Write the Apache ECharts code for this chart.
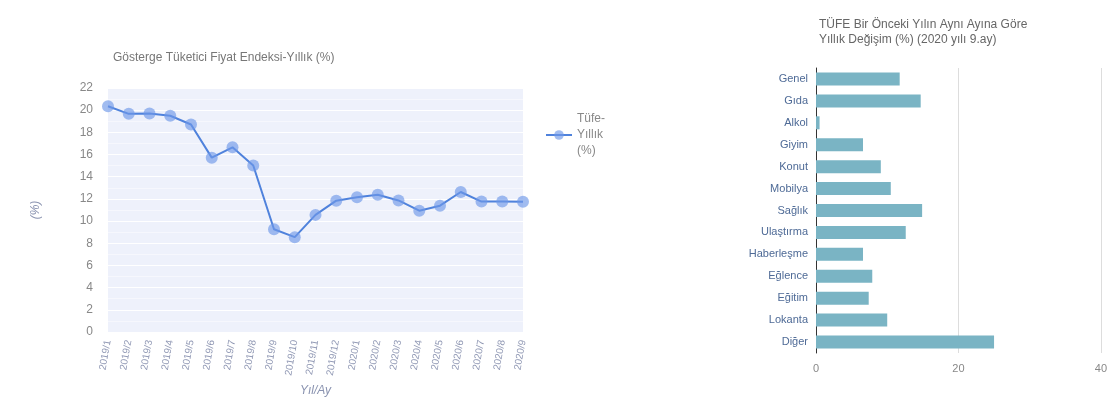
<!DOCTYPE html>
<html>
<head>
<meta charset="utf-8">
<script src="https://cdn.jsdelivr.net/npm/echarts@6/dist/echarts.min.js"></script>
<style>
  html, body { margin: 0; padding: 0; background: #fff; }
  #main { width: 1110px; height: 410px; }
</style>
</head>
<body>
<div id="main"></div>
<script>
// sol grafik: yillik tufe
var months = ['2019/1', '2019/2', '2019/3', '2019/4', '2019/5', '2019/6', '2019/7', '2019/8', '2019/9', '2019/10', '2019/11', '2019/12',
  '2020/1', '2020/2', '2020/3', '2020/4', '2020/5', '2020/6', '2020/7', '2020/8', '2020/9'];
var tufeYillik = [20.35, 19.67, 19.71, 19.50, 18.71, 15.72, 16.65, 15.01, 9.26, 8.55, 10.56, 11.84,
  12.15, 12.37, 11.86, 10.94, 11.39, 12.62, 11.76, 11.77, 11.75];

// sag grafik: harcama gruplari (2020 9.ay)
var groups = ['Genel', 'Gıda', 'Alkol', 'Giyim', 'Konut', 'Mobilya', 'Sağlık', 'Ulaştırma', 'Haberleşme', 'Eğlence', 'Eğitim', 'Lokanta', 'Diğer'];
var groupChange = [11.75, 14.7, 0.5, 6.6, 9.1, 10.5, 14.9, 12.6, 6.6, 7.9, 7.4, 10.0, 25.0];

var chart = echarts.init(document.getElementById('main'));

var option = {
  animation: false,
  textStyle: { fontFamily: 'Arial, "Liberation Sans", sans-serif' },
  title: [
    {
      text: 'Gösterge Tüketici Fiyat Endeksi-Yıllık (%)',
      left: 108, top: 47,
      textStyle: { fontSize: 12, fontWeight: 'normal', color: '#777' }
    },
    {
      text: 'TÜFE Bir Önceki Yılın Aynı Ayına Göre\nYıllık Değişim (%) (2020 yılı 9.ay)',
      left: 814, top: 12,
      textStyle: { fontSize: 12, fontWeight: 'normal', color: '#666', lineHeight: 15 }
    }
  ],
  legend: {
    data: ['Tüfe-Yıllık (%)'],
    left: 540, top: 90,
    orient: 'vertical',
    itemWidth: 26, itemHeight: 12,
    formatter: function () { return 'Tüfe-\nYıllık\n(%)'; },
    textStyle: { color: '#888', fontSize: 12, lineHeight: 16, padding: [32, 0, 0, 0] }
  },
  grid: [
    { left: 108, top: 88, width: 415, bottom: 78, show: true, backgroundColor: '#eef1fb', borderWidth: 0 },
    { left: 816, top: 68, right: 9, bottom: 57 }
  ],
  xAxis: [
    {
      type: 'category', gridIndex: 0, data: months, boundaryGap: false,
      name: 'Yıl/Ay', nameLocation: 'middle', nameGap: 52,
      nameTextStyle: { color: '#8a93b0', fontStyle: 'italic', fontSize: 12 },
      axisLine: { show: false }, axisTick: { show: false },
      axisLabel: { rotate: 80, color: '#9098b4', fontSize: 10, margin: 8, interval: 0 },
      splitLine: { show: false }
    },
    {
      type: 'value', gridIndex: 1, min: 0, max: 40, interval: 20,
      axisLine: { show: false }, axisTick: { show: false },
      axisLabel: { color: '#888', fontSize: 11, margin: 10 },
      splitLine: { lineStyle: { color: '#ddd' } }
    }
  ],
  yAxis: [
    {
      type: 'value', gridIndex: 0, min: 0, max: 22, interval: 2,
      name: '(%)', nameLocation: 'middle', nameGap: 66, nameRotate: 90,
      nameTextStyle: { color: '#8a93b0', fontStyle: 'italic', fontSize: 12 },
      axisLine: { show: false }, axisTick: { show: false },
      axisLabel: { color: '#888', fontSize: 12, margin: 15 },
      splitLine: { lineStyle: { color: '#fff' } },
      minorTick: { show: false, splitNumber: 2 },
      minorSplitLine: { show: true, lineStyle: { color: '#f6f7fd' } }
    },
    {
      type: 'category', gridIndex: 1, data: groups, inverse: true,
      axisLine: { show: true, lineStyle: { color: '#333' } }, axisTick: { show: false },
      axisLabel: { color: '#4e6a96', fontSize: 11, margin: 8 }
    }
  ],
  series: [
    {
      name: 'Tüfe-Yıllık (%)',
      type: 'line', xAxisIndex: 0, yAxisIndex: 0,
      data: tufeYillik,
      symbol: 'circle', symbolSize: 12,
      lineStyle: { color: '#4f82dc', width: 2 },
      itemStyle: { color: 'rgba(110,152,232,0.65)' }
    },
    {
      name: 'Değişim',
      type: 'bar', xAxisIndex: 1, yAxisIndex: 1,
      data: groupChange,
      barWidth: 13,
      itemStyle: { color: '#7ab4c4' }
    }
  ]
};

chart.setOption(option);
</script>
</body>
</html>
